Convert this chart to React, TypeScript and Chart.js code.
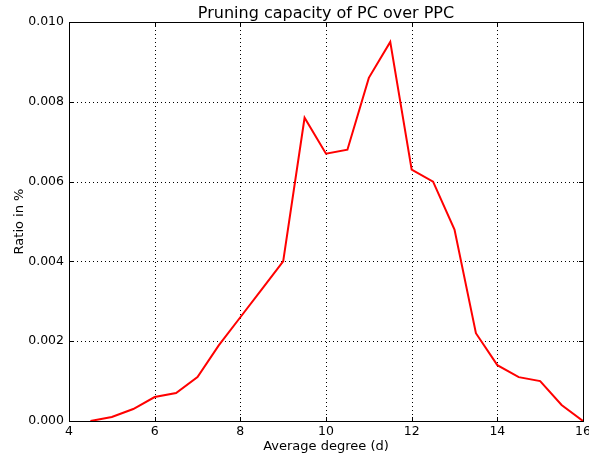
import React, { useEffect, useRef } from "react";
import { Chart, registerables } from "chart.js";

Chart.register(...registerables);

const xValues = [4.5, 5, 5.5, 6, 6.5, 7, 7.5, 8, 8.5, 9, 9.5, 10, 10.5, 11, 11.5, 12, 12.5, 13, 13.5, 14, 14.5, 15, 15.5, 16];
const ratioValues = [0, 0.0001, 0.0003, 0.0006, 0.0007, 0.0011, 0.0019, 0.0026, 0.0033, 0.004, 0.0076, 0.0067, 0.0068, 0.0086, 0.0095, 0.0063, 0.006, 0.0048, 0.0022, 0.0014, 0.0011, 0.001, 0.0004, 0];
const xTicks = [4, 6, 8, 10, 12, 14, 16];
const yTicks = [0, 0.002, 0.004, 0.006, 0.008, 0.01];
const titleText = "Pruning capacity of PC over PPC";
const xLabel = "Average degree (d)";
const yLabel = "Ratio in %";

const FONT = "'DejaVu Sans', sans-serif";

const decorPlugin = {
  id: "decor",
  beforeDatasetsDraw(chart: any) {
    const { ctx, chartArea: a, scales } = chart;
    ctx.save();
    ctx.strokeStyle = "#000";
    ctx.lineWidth = 1;
    ctx.setLineDash([1, 3]);
    xTicks.forEach((t) => {
      const x = Math.round(scales.x.getPixelForValue(t)) + 0.5;
      ctx.beginPath();
      ctx.moveTo(x, a.top);
      ctx.lineTo(x, a.bottom);
      ctx.stroke();
    });
    yTicks.forEach((t) => {
      const y = Math.round(scales.y.getPixelForValue(t)) + 0.5;
      ctx.beginPath();
      ctx.moveTo(a.left, y);
      ctx.lineTo(a.right, y);
      ctx.stroke();
    });
    ctx.restore();
  },
  afterDraw(chart: any) {
    const { ctx, chartArea: a, scales } = chart;
    ctx.save();
    ctx.strokeStyle = "#000";
    ctx.lineWidth = 1;
    ctx.setLineDash([]);
    ctx.strokeRect(Math.round(a.left) + 0.5, Math.round(a.top) + 0.5, Math.round(a.right - a.left), Math.round(a.bottom - a.top));
    const L = 4;
    xTicks.forEach((t) => {
      const x = Math.round(scales.x.getPixelForValue(t)) + 0.5;
      ctx.beginPath();
      ctx.moveTo(x, a.bottom);
      ctx.lineTo(x, a.bottom - L);
      ctx.moveTo(x, a.top);
      ctx.lineTo(x, a.top + L);
      ctx.stroke();
    });
    yTicks.forEach((t) => {
      const y = Math.round(scales.y.getPixelForValue(t)) + 0.5;
      ctx.beginPath();
      ctx.moveTo(a.left, y);
      ctx.lineTo(a.left + L, y);
      ctx.moveTo(a.right, y);
      ctx.lineTo(a.right - L, y);
      ctx.stroke();
    });
    ctx.fillStyle = "#000";
    ctx.font = `16px ${FONT}`;
    ctx.textAlign = "center";
    ctx.textBaseline = "alphabetic";
    ctx.fillText(titleText, (a.left + a.right) / 2, 18);
    ctx.font = `13px ${FONT}`;
    ctx.fillText(xLabel, (a.left + a.right) / 2, 450);
    ctx.translate(23, (a.top + a.bottom) / 2);
    ctx.rotate(-Math.PI / 2);
    ctx.fillText(yLabel, 0, 0);
    ctx.restore();
  },
};

export default function App() {
  const ref = useRef<HTMLCanvasElement | null>(null);
  useEffect(() => {
    if (!ref.current) return;
    const chart = new Chart(ref.current, {
      type: "line",
      data: {
        datasets: [
          {
            data: xValues.map((x, i) => ({ x, y: ratioValues[i] })),
            borderColor: "#ff0000",
            borderWidth: 2,
            pointRadius: 0,
            fill: false,
            tension: 0,
          },
        ],
      },
      options: {
        responsive: false,
        animation: false,
        events: [],
        layout: { padding: { top: 22, right: 6, left: 0, bottom: 0 } },
        plugins: { legend: { display: false }, title: { display: false }, tooltip: { enabled: false } },
        scales: {
          x: {
            type: "linear",
            min: 4,
            max: 16,
            afterBuildTicks: (s: any) => { s.ticks = xTicks.map((v) => ({ value: v })); },
            afterFit: (s: any) => { s.height = 35; s.paddingLeft = 0; s.paddingRight = 0; },
            ticks: { color: "#000", font: { family: FONT, size: 12.5 }, padding: 3, maxRotation: 0, autoSkip: false, callback: (v: any) => String(v) },
            grid: { display: false, drawTicks: false },
            border: { display: false },
          },
          y: {
            type: "linear",
            min: 0,
            max: 0.01,
            afterBuildTicks: (s: any) => { s.ticks = yTicks.map((v) => ({ value: v })); },
            afterFit: (s: any) => { s.width = 69; s.paddingTop = 0; s.paddingBottom = 0; },
            ticks: { color: "#000", font: { family: FONT, size: 12.5 }, padding: 5, autoSkip: false, callback: (v: any) => Number(v).toFixed(3) },
            grid: { display: false, drawTicks: false },
            border: { display: false },
          },
        },
      },
      plugins: [decorPlugin],
    });
    return () => chart.destroy();
  }, []);
  return (
    <div style={{ position: "absolute", left: 0, top: 0, width: 589, height: 456, background: "#fff" }}>
      <canvas ref={ref} width={589} height={456} style={{ width: 589, height: 456, display: "block" }} />
    </div>
  );
}
